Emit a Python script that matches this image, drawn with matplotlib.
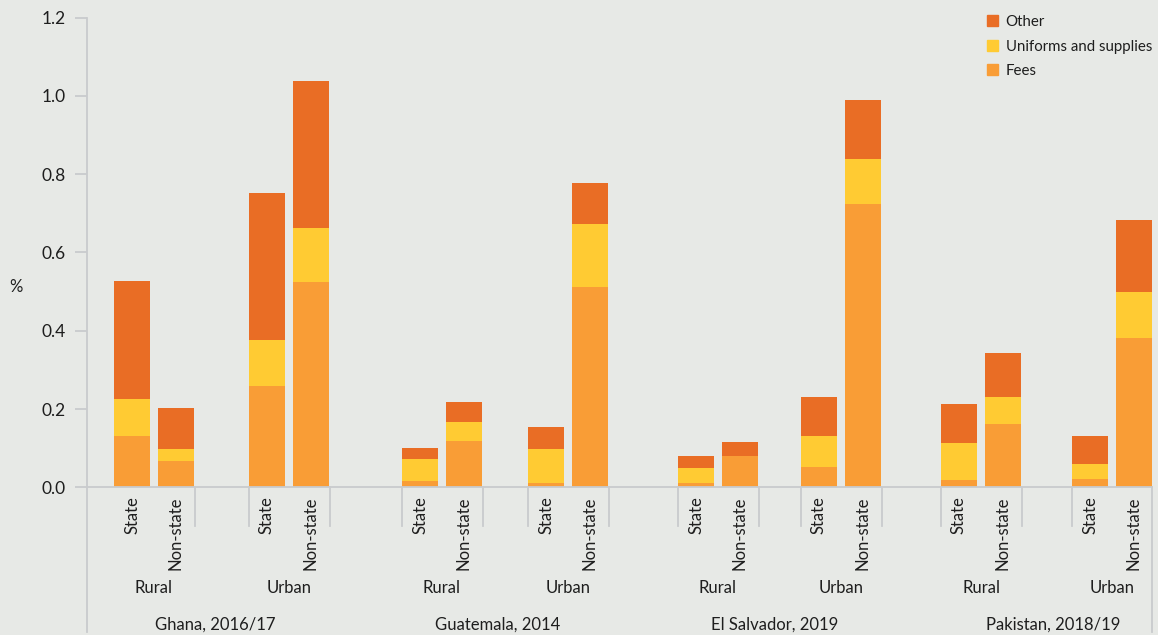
import numpy as np
import matplotlib
matplotlib.use("Agg")
import matplotlib.pyplot as plt
from matplotlib.patches import Patch

plt.rcParams['font.family'] = ['Lato', 'DejaVu Sans']
FS = 12

# data (% of ...), one entry per bar, left to right
countries = ['Ghana, 2016/17', 'Guatemala, 2014', 'El Salvador, 2019', 'Pakistan, 2018/19']
areas = ['Rural', 'Urban']
types = ['State', 'Non-state']

fees = [0.131, 0.067, 0.259, 0.524,
        0.016, 0.118, 0.011, 0.512,
        0.011, 0.080, 0.052, 0.724,
        0.019, 0.162, 0.021, 0.381]
uniforms = [0.094, 0.031, 0.117, 0.138,
            0.056, 0.049, 0.087, 0.160,
            0.038, 0.000, 0.079, 0.115,
            0.094, 0.069, 0.039, 0.118]
other = [0.302, 0.105, 0.376, 0.376,
         0.028, 0.051, 0.056, 0.105,
         0.031, 0.036, 0.100, 0.151,
         0.100, 0.112, 0.071, 0.184]

c_fees = '#F99D36'
c_unif = '#FFCB33'
c_other = '#E96D25'
bg = '#E7E9E6'
line_c = '#C9CBCD'
txt = '#1E1E1E'

# layout, in pixels of the 1158x635 picture
block_left = [114, 249, 402, 528, 678, 801, 941, 1072]
country_x = [215, 498, 775, 1053]
bw = 36
step = 43.5


def py(yp):
    # picture row -> value
    return (487.3 - yp) / 391.5


fig = plt.figure(figsize=(11.58, 6.35), dpi=100, facecolor=bg)
ax = fig.add_axes([0, 0, 1, 1], facecolor=bg)
ax.set_xlim(0, 1158)
ax.set_ylim(py(635), py(0))

xs = []
for L in block_left:
    xs += [L + bw / 2, L + bw / 2 + step]
xs = np.array(xs)
fees = np.array(fees)
uniforms = np.array(uniforms)
other = np.array(other)

ax.bar(xs, fees, bw, color=c_fees, zorder=3)
ax.bar(xs, uniforms, bw, bottom=fees, color=c_unif, zorder=3)
ax.bar(xs, other, bw, bottom=fees + uniforms, color=c_other, zorder=3)

# spines
ax.spines['top'].set_visible(False)
ax.spines['left'].set_position(('data', 87))
ax.spines['left'].set_bounds(py(632), 1.2)
ax.spines['right'].set_position(('data', 1152))
ax.spines['right'].set_bounds(py(632), 0)
ax.spines['bottom'].set_position(('data', 0))
ax.spines['bottom'].set_bounds(87, 1152)
for s in ['left', 'right', 'bottom']:
    ax.spines[s].set_color(line_c)
    ax.spines[s].set_linewidth(1.3)
    ax.spines[s].set_zorder(4)

yt = [0, 0.2, 0.4, 0.6, 0.8, 1.0, 1.2]
ax.set_yticks(yt)
ax.set_yticklabels(['%.1f' % v for v in yt])
ax.set_xticks([])
ax.tick_params(axis='y', length=8.6, width=1.3, color=line_c, pad=7,
               labelsize=12.5, labelcolor=txt)
ax.text(16, py(287), '%', fontsize=FS, color=txt, ha='center', va='center')

# category axis
for i, L in enumerate(block_left):
    if i > 0:
        ax.plot([L, L], [0, py(526)], color=line_c, lw=1.3, clip_on=False)
    R = L + 81
    if i < len(block_left) - 1:
        ax.plot([R, R], [0, py(526)], color=line_c, lw=1.3, clip_on=False)
    for j, t in enumerate(types):
        ax.text(xs[2 * i + j], py(496), t, rotation=90, ha='center', va='top',
                fontsize=FS, color=txt)
    ax.text(L + 40, py(588), areas[i % 2], ha='center', va='center',
            fontsize=FS, color=txt)
for cx, c in zip(country_x, countries):
    ax.text(cx, py(625), c, ha='center', va='center', fontsize=FS, color=txt)

handles = [Patch(color=c_other, label='Other'),
           Patch(color=c_unif, label='Uniforms and supplies'),
           Patch(color=c_fees, label='Fees')]
ax.legend(handles=handles, loc='upper left', bbox_to_anchor=(984 / 1158, 1 - 12 / 635),
          bbox_transform=fig.transFigure, frameon=False, fontsize=10.8,
          handlelength=0.75, handleheight=0.75, handletextpad=0.5,
          labelspacing=0.7, borderaxespad=0, borderpad=0.2, labelcolor=txt)

fig.savefig('out.png', dpi=100, facecolor=bg)
